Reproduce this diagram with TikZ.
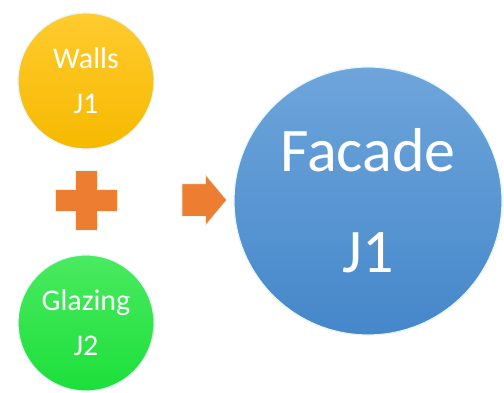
\documentclass[tikz,border=0pt]{standalone}
\usepackage{fontspec}
\setmainfont{Carlito}
\usetikzlibrary{shapes.arrows}
\definecolor{wallstop}{HTML}{FFCB2E}
\definecolor{wallsbot}{HTML}{F6B900}
\definecolor{glazetop}{HTML}{4AEA60}
\definecolor{glazebot}{HTML}{1CDF3A}
\definecolor{facadetop}{HTML}{6EA5DB}
\definecolor{facadebot}{HTML}{4587CA}
\definecolor{signorange}{HTML}{ED7D31}
\definecolor{rim}{HTML}{E4F6F6}
\begin{document}
\begin{tikzpicture}[x=1pt, y=-1pt,
		ball/.style={draw=rim, line width=1.2pt, shape=circle, inner sep=0pt, text=white, align=center},
		smallball/.style={ball, minimum size=136pt, font=\fontsize{30}{45}\selectfont},
		bigball/.style={ball, minimum size=268pt, font=\fontsize{62}{101}\selectfont},
		sign/.style={fill=signorange, draw=rim, line width=0.8pt}]
		\useasboundingbox (0,0) rectangle (504,392);

		\path (86,81) node[smallball, top color=wallstop, bottom color=wallsbot] (walls) {Walls\\J1}
		(86,323) node[smallball, top color=glazetop, bottom color=glazebot] (glazing) {Glazing\\J2}
		(368,201) node[bigball, top color=facadetop, bottom color=facadebot] (facade) {Facade\\J1}
		(86,200) coordinate (plus)
		(197.5,200) node[sign, single arrow, minimum height=45pt, inner sep=0pt, inner ysep=16pt,
			single arrow head extend=9pt, single arrow tip angle=100, single arrow head indent=0pt] (arrow) {};

		\draw[sign] (plus) ++(-11,-30) -- ++(22,0) -- ++(0,19) -- ++(20,0) -- ++(0,22)
		-- ++(-20,0) -- ++(0,19) -- ++(-22,0) -- ++(0,-19) -- ++(-20,0) -- ++(0,-22)
		-- ++(20,0) -- cycle;

	\end{tikzpicture}
\end{document}
